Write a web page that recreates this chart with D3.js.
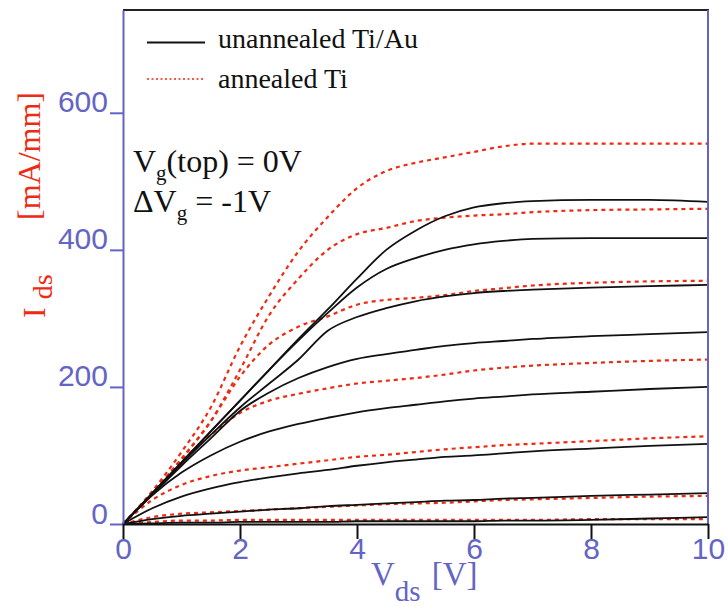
<!DOCTYPE html>
<html>
<head>
<meta charset="utf-8">
<script src="https://cdn.jsdelivr.net/npm/d3@7/dist/d3.min.js"></script>
<style>
  html, body { margin: 0; padding: 0; background: #ffffff; }
  svg { display: block; }
</style>
</head>
<body>
<svg id="chart" width="728" height="607"></svg>
<script>
// ---------------- data ----------------
const vds = [0, 0.5, 1, 1.5, 2, 2.5, 3, 3.5, 4, 4.5, 5, 5.5, 6, 6.5, 7, 8, 9, 10];

// unannealed Ti/Au (solid black), Vg = 0, -1, -2, ... V
const unannealed1 = [0, 45, 90, 135, 180, 225, 270, 313, 358, 400, 428, 449, 462, 468, 471, 473, 473, 470];
const unannealed2 = [0, 45, 90, 135, 180, 225, 268, 308, 345, 372, 388, 400, 408, 413, 416, 417, 417, 417];
const unannealed3 = [0, 44, 88, 130, 170, 205, 240, 282, 302, 315, 325, 332, 337, 340, 342, 345, 347, 349];
const unannealed4 = [0, 43, 85, 125, 165, 192, 213, 229, 241, 248, 254, 260, 264, 267, 270, 274, 277, 280];
const unannealed5 = [0, 42, 75, 100, 120, 135, 146, 155, 163, 169, 174, 179, 183, 186, 189, 193, 197, 200];
const unannealed6 = [0, 23, 40, 52, 61, 68, 74, 79, 85, 90, 94, 98, 100, 103, 106, 110, 114, 117];
const unannealed7 = [0, 7, 12, 15, 18, 21, 23, 26, 28, 30, 32, 34, 35, 37, 38, 41, 43, 45];
const unannealed8 = [0, 1, 2, 2, 3, 3, 3, 3, 4, 4, 4, 4, 4, 5, 5, 6, 8, 10];

// annealed Ti (dotted red)
const annealed1 = [0, 48, 105, 170, 259, 333, 398, 448, 490, 515, 527, 535, 543, 551, 555, 555, 555, 555];
const annealed2 = [0, 45, 95, 150, 225, 305, 358, 400, 423, 432, 442, 447, 450, 452, 455, 458, 459, 460];
const annealed3 = [0, 45, 95, 150, 215, 262, 288, 303, 320, 327, 330, 334, 340, 344, 348, 352, 354, 355];
const annealed4 = [0, 45, 92, 130, 162, 180, 190, 198, 205, 209, 213, 218, 224, 228, 231, 235, 238, 240];
const annealed5 = [0, 35, 57, 70, 78, 83, 88, 93, 98, 101, 105, 109, 112, 115, 117, 121, 125, 128];
const annealed6 = [0, 10, 15, 17, 19, 21, 23, 25, 27, 29, 30, 31, 33, 35, 36, 38, 40, 41];
const annealed7 = [0, 3, 5, 5, 6, 6, 6, 6, 6, 6, 6, 6, 6, 6, 6, 7, 7, 7];

const unannealedSeries = [unannealed1, unannealed2, unannealed3, unannealed4, unannealed5, unannealed6, unannealed7, unannealed8];
const annealedSeries = [annealed1, annealed2, annealed3, annealed4, annealed5, annealed6, annealed7];

const xTicks = [0, 2, 4, 6, 8, 10];
const yTicks = [0, 200, 400, 600];
const legendLabels = ["unannealed Ti/Au", "annealed Ti"];

// ---------------- drawing ----------------
const BLUE = "#6464c4";
const RED = "#ee2a12";
const svg = d3.select("#chart");
svg.append("rect").attr("width", 728).attr("height", 607).attr("fill", "#fff");

const x = d3.scaleLinear().domain([0, 10]).range([123, 708]);
const y = d3.scaleLinear().domain([0, 750]).range([524, 10]);

const line = d3.line()
  .x((d, i) => x(vds[i]))
  .y(d => y(d))
  .curve(d3.curveMonotoneX);

const curves = svg.append("g");
annealedSeries.forEach(s => {
  curves.append("path").attr("d", line(s))
    .attr("fill", "none").attr("stroke", RED)
    .attr("stroke-width", 2.2).attr("stroke-dasharray", "4,4");
});
unannealedSeries.forEach(s => {
  curves.append("path").attr("d", line(s))
    .attr("fill", "none").attr("stroke", "#111")
    .attr("stroke-width", 1.8);
});

// frame: top (black) and right (blue)
svg.append("line").attr("x1", 123).attr("x2", 709).attr("y1", 10).attr("y2", 10)
  .attr("stroke", "#222").attr("stroke-width", 2);
svg.append("line").attr("x1", 708).attr("x2", 708).attr("y1", 10).attr("y2", 524)
  .attr("stroke", BLUE).attr("stroke-width", 2);

// y axis
const yAxis = svg.append("g").attr("transform", "translate(123,0)")
  .call(d3.axisLeft(y).tickValues(yTicks).tickSize(13).tickSizeOuter(0).tickFormat(d3.format("d")));
yAxis.select(".domain").attr("stroke", BLUE).attr("stroke-width", 2);
yAxis.selectAll(".tick line").attr("stroke", BLUE).attr("stroke-width", 2);
yAxis.selectAll(".tick text")
  .attr("x", -15).attr("dy", null).attr("y", -1)
  .attr("fill", BLUE).style("font-family", "'Liberation Sans', Arial, sans-serif")
  .style("font-size", "30px");

// x axis
const xAxis = svg.append("g").attr("transform", "translate(0,524)")
  .call(d3.axisBottom(x).tickValues(xTicks).tickSize(15).tickSizeOuter(0).tickFormat(d3.format("d")));
xAxis.select(".domain").attr("stroke", "#111").attr("stroke-width", 2);
xAxis.selectAll(".tick line").attr("stroke", "#111").attr("stroke-width", 2);
xAxis.selectAll(".tick text")
  .attr("y", 35).attr("dy", null)
  .attr("fill", BLUE).style("font-family", "'Liberation Sans', Arial, sans-serif")
  .style("font-size", "30px");

const SERIF = "'Liberation Serif', 'Times New Roman', serif";

// x axis title
const xt = svg.append("text").attr("x", 371).attr("y", 585)
  .attr("fill", BLUE).style("font-family", SERIF).style("font-size", "33px");
xt.append("tspan").text("V");
xt.append("tspan").attr("dy", 16).style("font-size", "29px").text("ds");
xt.append("tspan").attr("dy", -16).attr("dx", 11).text("[V]");

// y axis title (rotated)
svg.append("text").attr("transform", "translate(40,220) rotate(-90)")
  .attr("fill", RED).style("font-family", SERIF).style("font-size", "32px")
  .text("[mA/mm]");
const yt2 = svg.append("text").attr("transform", "translate(45,318) rotate(-90)")
  .attr("fill", RED).style("font-family", SERIF).style("font-size", "32px");
yt2.append("tspan").text("I");
yt2.append("tspan").attr("dx", 8).attr("dy", 7).style("font-size", "28px").text("ds");

// legend
svg.append("line").attr("x1", 147).attr("x2", 205).attr("y1", 42.5).attr("y2", 42.5)
  .attr("stroke", "#111").attr("stroke-width", 2);
svg.append("line").attr("x1", 147).attr("x2", 205).attr("y1", 79).attr("y2", 79)
  .attr("stroke", RED).attr("stroke-width", 1.6).attr("stroke-dasharray", "2,2.5");
svg.append("text").attr("x", 218).attr("y", 48).style("font-family", SERIF)
  .style("font-size", "28px").attr("fill", "#111").text(legendLabels[0]);
svg.append("text").attr("x", 218).attr("y", 88).style("font-family", SERIF)
  .style("font-size", "28px").attr("fill", "#111").text(legendLabels[1]);

// annotation
const a1 = svg.append("text").attr("x", 133).attr("y", 172)
  .style("font-family", SERIF).style("font-size", "32px").attr("fill", "#111");
a1.append("tspan").text("V");
a1.append("tspan").attr("dy", 8).style("font-size", "21px").text("g");
a1.append("tspan").attr("dy", -8).text("(top) = 0V");
const a2 = svg.append("text").attr("x", 133).attr("y", 212)
  .style("font-family", SERIF).style("font-size", "32px").attr("fill", "#111");
a2.append("tspan").text("\u0394V");
a2.append("tspan").attr("dy", 8).style("font-size", "21px").text("g");
a2.append("tspan").attr("dy", -8).text(" = -1V");
</script>
</body>
</html>
